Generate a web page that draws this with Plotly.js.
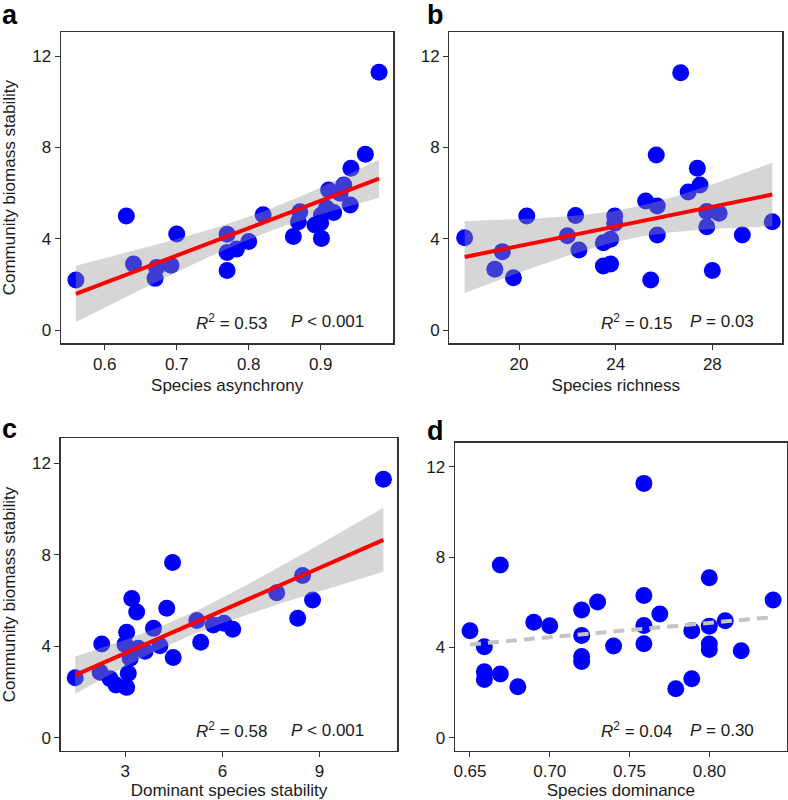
<!DOCTYPE html>
<html>
<head>
<meta charset="utf-8">
<script src="https://cdn.plot.ly/plotly-3.0.1.min.js"></script>
<style>
  html, body { margin: 0; padding: 0; background: #fff; }
  #chart { width: 788px; height: 800px; }
</style>
</head>
<body>
<div id="chart"></div>
<script>
"use strict";

// Community biomass stability vs. four predictors.
const asynchronyX = [0.560, 0.630, 0.640, 0.670, 0.672, 0.692, 0.700, 0.770, 0.770, 0.770,
  0.783, 0.800, 0.820, 0.862, 0.871, 0.869, 0.892, 0.901, 0.901, 0.900,
  0.908, 0.911, 0.918, 0.927, 0.932, 0.941, 0.942, 0.962, 0.981];
const asynchronyY = [2.20, 5.00, 2.90, 2.27, 2.75, 2.84, 4.21, 4.20, 3.40, 2.61,
  3.55, 3.88, 5.05, 4.10, 5.19, 4.75, 4.61, 4.02, 5.04, 4.70,
  5.34, 6.14, 5.15, 6.00, 6.36, 5.48, 7.09, 7.70, 11.29];

const richnessX = [17.75, 19.0, 19.31, 19.77, 20.32, 22.0, 22.34, 22.48, 23.49, 23.49,
  23.79, 23.79, 23.96, 23.96, 25.24, 25.45, 25.68, 25.72, 25.72, 26.69,
  27.0, 27.38, 27.49, 27.77, 27.77, 28.28, 28.0, 29.24, 30.48];
const richnessY = [4.05, 2.67, 3.44, 2.30, 5.00, 4.13, 5.02, 3.51, 3.83, 2.81,
  2.90, 3.98, 5.00, 4.68, 5.66, 2.20, 7.67, 5.44, 4.17, 11.27,
  6.05, 7.09, 6.36, 5.20, 4.53, 5.12, 2.61, 4.17, 4.75];

const domStabX = [1.45, 2.27, 2.22, 2.53, 2.71, 3.04, 3.09, 3.15, 2.99, 3.04,
  3.20, 3.35, 3.40, 3.61, 3.87, 4.07, 4.28, 4.46, 4.48, 5.21,
  5.33, 5.72, 6.05, 6.32, 7.68, 8.33, 8.48, 8.79, 10.98];
const domStabY = [2.62, 4.10, 2.86, 2.58, 2.30, 2.20, 2.82, 3.47, 4.08, 4.61,
  6.09, 5.50, 3.91, 3.78, 4.78, 4.02, 5.66, 7.66, 3.51, 5.12,
  4.17, 4.93, 5.00, 4.74, 6.34, 5.22, 7.09, 6.02, 11.30];

const dominanceX = [0.650, 0.659, 0.659, 0.659, 0.669, 0.669, 0.680, 0.690, 0.700, 0.720,
  0.720, 0.720, 0.720, 0.730, 0.740, 0.759, 0.759, 0.759, 0.759, 0.769,
  0.779, 0.789, 0.789, 0.800, 0.800, 0.800, 0.800, 0.810, 0.820, 0.840];
const dominanceY = [4.74, 4.03, 2.92, 2.58, 7.65, 2.82, 2.26, 5.11, 4.96, 5.65,
  4.53, 3.59, 3.37, 6.01, 4.06, 11.26, 6.30, 4.97, 4.16, 5.48,
  2.17, 4.74, 2.61, 7.08, 4.94, 4.15, 3.91, 5.18, 3.85, 6.10];

const yTicks = [0, 4, 8, 12];
const FONT = "Liberation Sans, Arial, Helvetica, sans-serif";

// Ordinary least squares with a 95% confidence band, as geom_smooth(method = "lm").
function linearFit(xs, ys, steps) {
  const n = xs.length;
  const mx = xs.reduce((a, b) => a + b, 0) / n;
  const my = ys.reduce((a, b) => a + b, 0) / n;
  let sxx = 0, sxy = 0;
  for (let i = 0; i < n; i++) {
    sxx += (xs[i] - mx) ** 2;
    sxy += (xs[i] - mx) * (ys[i] - my);
  }
  const slope = sxy / sxx;
  const icpt = my - slope * mx;
  let sse = 0;
  for (let i = 0; i < n; i++) sse += (ys[i] - icpt - slope * xs[i]) ** 2;
  const s = Math.sqrt(sse / (n - 2));
  const df = n - 2;
  const z = 1.959964;
  const t = z + (z ** 3 + z) / (4 * df) + (5 * z ** 5 + 16 * z ** 3 + 3 * z) / (96 * df * df);
  const lo = Math.min(...xs), hi = Math.max(...xs);
  const fx = [], fy = [], low = [], upp = [];
  for (let k = 0; k <= steps; k++) {
    const x = lo + (hi - lo) * k / steps;
    const y = icpt + slope * x;
    const se = s * Math.sqrt(1 / n + (x - mx) ** 2 / sxx);
    fx.push(x); fy.push(y); low.push(y - t * se); upp.push(y + t * se);
  }
  return { fx, fy, low, upp };
}

// Band and fit line sit on an overlay subplot so the grey band tints the points below it.
const panels = [
  { xs: asynchronyX, ys: asynchronyY, band: true, xa: "x", ya: "y", ox: "x5", oy: "y5" },
  { xs: richnessX, ys: richnessY, band: true, xa: "x2", ya: "y2", ox: "x6", oy: "y6" },
  { xs: domStabX, ys: domStabY, band: true, xa: "x3", ya: "y3", ox: "x7", oy: "y7" },
  { xs: dominanceX, ys: dominanceY, band: false, xa: "x4", ya: "y4", ox: "x8", oy: "y8" },
];

const traces = [];
for (const p of panels) {
  const fit = linearFit(p.xs, p.ys, 60);
  traces.push({
    type: "scatter", mode: "markers", x: p.xs, y: p.ys, xaxis: p.xa, yaxis: p.ya,
    marker: { color: "#0000ff", size: 17, line: { width: 0 } }, hoverinfo: "x+y",
  });
  if (p.band) {
    traces.push({
      type: "scatter", mode: "lines", x: fit.fx.concat([...fit.fx].reverse()),
      y: fit.upp.concat([...fit.low].reverse()), xaxis: p.ox, yaxis: p.oy,
      line: { width: 0 }, fill: "toself", fillcolor: "rgba(153,153,153,0.4)", hoverinfo: "skip",
    });
    traces.push({
      type: "scatter", mode: "lines", x: fit.fx, y: fit.fy, xaxis: p.ox, yaxis: p.oy,
      line: { color: "#ff0000", width: 4 }, hoverinfo: "skip",
    });
  } else {
    traces.push({
      type: "scatter", mode: "lines", x: fit.fx, y: fit.fy, xaxis: p.ox, yaxis: p.oy,
      line: { color: "#c4c4c4", width: 4, dash: "11px,7px" }, hoverinfo: "skip",
    });
  }
}

const axisBase = {
  showline: true, mirror: true, linecolor: "#333", linewidth: 1.3,
  ticks: "outside", ticklen: 5, tickwidth: 1, tickcolor: "#333",
  showgrid: false, zeroline: false,
  tickfont: { family: FONT, size: 17, color: "#1a1a1a" },
};
const titleFont = { family: FONT, size: 17, color: "#1a1a1a" };

function xAxis(domain, range, ticks, title, fmt, anchor) {
  return {
    ...axisBase, domain, range, tickvals: ticks, tickformat: fmt || "", anchor,
    title: { text: title, font: titleFont, standoff: 6 },
  };
}
function yAxis(domain, range, title, anchor) {
  const ax = { ...axisBase, domain, range, tickvals: yTicks, anchor };
  if (title) ax.title = { text: title, font: titleFont, standoff: 13 };
  return ax;
}
function overlay(base, range, anchor) {
  return { overlaying: base, range, anchor, visible: false, showgrid: false, zeroline: false };
}

function stat(ref, rx, px, y, r2, p) {
  const f = { family: FONT, size: 17, color: "#1a1a1a" };
  return [
    { xref: ref + " domain", yref: ref.replace("x", "y") + " domain", x: rx, y, xanchor: "left",
      yanchor: "middle", showarrow: false, font: f, text: "<i>R</i><sup>2</sup> = " + r2 },
    { xref: ref + " domain", yref: ref.replace("x", "y") + " domain", x: px, y, xanchor: "left",
      yanchor: "middle", showarrow: false, font: f, text: p },
  ];
}
function letter(t, x, y) {
  return { xref: "paper", yref: "paper", x, y, xanchor: "left", yanchor: "middle",
    showarrow: false, text: "<b>" + t + "</b>", font: { family: FONT, size: 27, color: "#000" } };
}

const rangeA = [0.5393, 1.0008], rangeB = [17.116, 30.896], rangeC = [1.0, 11.41], rangeD = [0.6406, 0.8485];
const yRangeTop = [-0.57, 13.05], yRangeC = [-0.57, 13.09], yRangeD = [-0.576, 13.06];
const yTitle = "Community biomass stability";
const layout = {
  width: 788, height: 800,
  margin: { l: 0, r: 0, t: 0, b: 0 },
  paper_bgcolor: "#fff", plot_bgcolor: "#fff",
  showlegend: false,
  font: { family: FONT, color: "#1a1a1a" },
  xaxis: xAxis([0.0774, 0.4991], rangeA, [0.6, 0.7, 0.8, 0.9], "Species asynchrony", ".1f", "y"),
  yaxis: yAxis([0.5709, 0.96], yRangeTop, yTitle, "x"),
  xaxis2: xAxis([0.5702, 0.9928], rangeB, [20, 24, 28], "Species richness", "", "y2"),
  yaxis2: yAxis([0.5709, 0.96], yRangeTop, "", "x2"),
  xaxis3: xAxis([0.0770, 0.5042], rangeC, [3, 6, 9], "Dominant species stability", "", "y3"),
  yaxis3: yAxis([0.0616, 0.4521], yRangeC, yTitle, "x3"),
  xaxis4: xAxis([0.5774, 0.9983], rangeD, [0.65, 0.70, 0.75, 0.80], "Species dominance", ".2f", "y4"),
  yaxis4: yAxis([0.0616, 0.4466], yRangeD, "", "x4"),
  xaxis5: overlay("x", rangeA, "y5"), yaxis5: overlay("y", yRangeTop, "x5"),
  xaxis6: overlay("x2", rangeB, "y6"), yaxis6: overlay("y2", yRangeTop, "x6"),
  xaxis7: overlay("x3", rangeC, "y7"), yaxis7: overlay("y3", yRangeC, "x7"),
  xaxis8: overlay("x4", rangeD, "y8"), yaxis8: overlay("y4", yRangeD, "x8"),
  annotations: [
    ...stat("x", 0.401, 0.687, 0.069, "0.53", "<i>P</i> < 0.001"),
    ...stat("x2", 0.4495, 0.717, 0.069, "0.15", "<i>P</i> = 0.03"),
    ...stat("x3", 0.397, 0.679, 0.066, "0.58", "<i>P</i> < 0.001"),
    ...stat("x4", 0.434, 0.702, 0.066, "0.04", "<i>P</i> = 0.30"),
    letter("a", 0.0, 0.981),
    letter("b", 0.539, 0.981),
    letter("c", 0.0, 0.464),
    letter("d", 0.539, 0.461),
  ],
};

Plotly.newPlot("chart", traces, layout, { displayModeBar: false, staticPlot: true });
</script>
</body>
</html>
